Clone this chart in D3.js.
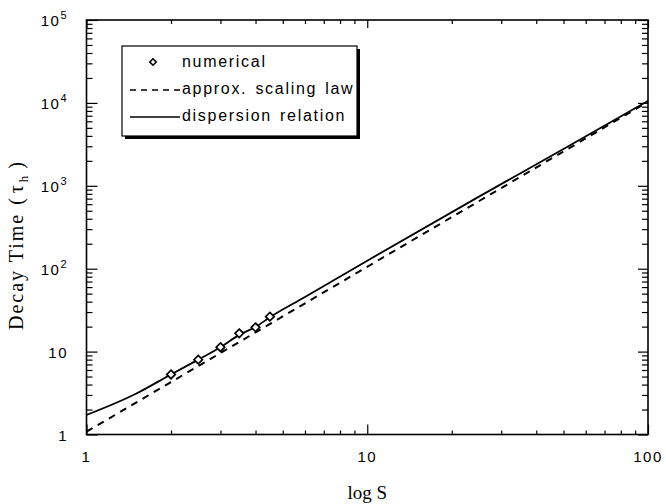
<!DOCTYPE html>
<html>
<head>
<meta charset="utf-8">
<script src="https://cdn.jsdelivr.net/npm/d3@7"></script>
<style>
  body { margin: 0; background: #fff; }
  svg { display: block; }
</style>
</head>
<body>
<div id="chart"></div>
<script>
// numerical results (diamonds)
const numS = [2, 2.5, 3, 3.5, 4, 4.5];
const numTau = [5.3, 8.0, 11.3, 16.6, 19.6, 26.4];

// dispersion relation (solid)
const dispS = [1, 1.5, 2, 2.5, 3, 3.5, 4, 4.5, 6, 10, 25, 50, 100];
const dispTau = [1.72, 3.1, 5.3, 8.0, 11.3, 15.9, 19.8, 26.0, 45.6, 125, 740, 2780, 10600];

// approx. scaling law (dashed)
const scaleS = [1, 100];
const scaleTau = [1.08, 10300];

const xMajor = [1, 10, 100];
const xLabels = ["1", "10", "100"];
const yMajor = [1, 10, 100, 1000, 10000, 100000];
const yBase = ["1", "10", "10", "10", "10", "10"];
const yExp = ["", "", "2", "3", "4", "5"];

const legendItems = ["numerical", "approx. scaling law", "dispersion relation"];

const width = 666, height = 504;
const plot = { left: 86.5, right: 648, top: 20, bottom: 434.5 };

const svg = d3.select("#chart")
  .append("svg")
  .attr("width", width)
  .attr("height", height);

const x = d3.scaleLog().domain([1, 100]).range([plot.left, plot.right]);
const y = d3.scaleLog().domain([1, 100000]).range([plot.bottom, plot.top]);

const minorOf = (scale, majors) =>
  scale.ticks().filter(t => !majors.includes(t));

const xMinor = minorOf(x, xMajor);
const yMinor = minorOf(y, yMajor);

// ticks pointing inward on all four sides
const tickGroup = (axis, tx, ty) => {
  const g = svg.append("g")
    .attr("transform", `translate(${tx},${ty})`)
    .call(axis);
  g.select(".domain").remove();
  g.selectAll("line").attr("stroke", "#000").attr("stroke-width", 1.2);
  return g;
};

tickGroup(d3.axisBottom(x).tickValues(xMajor).tickSize(-10).tickFormat(""), 0, plot.bottom);
tickGroup(d3.axisBottom(x).tickValues(xMinor).tickSize(-4).tickFormat(""), 0, plot.bottom);
tickGroup(d3.axisTop(x).tickValues(xMajor).tickSize(-8).tickFormat(""), 0, plot.top);
tickGroup(d3.axisTop(x).tickValues(xMinor).tickSize(-4).tickFormat(""), 0, plot.top);
tickGroup(d3.axisLeft(y).tickValues(yMajor).tickSize(-11).tickFormat(""), plot.left, 0);
tickGroup(d3.axisLeft(y).tickValues(yMinor).tickSize(-6).tickFormat(""), plot.left, 0);
tickGroup(d3.axisRight(y).tickValues(yMajor).tickSize(-10).tickFormat(""), plot.right, 0);
tickGroup(d3.axisRight(y).tickValues(yMinor).tickSize(-6).tickFormat(""), plot.right, 0);

// frame
svg.append("rect")
  .attr("x", plot.left)
  .attr("y", plot.top)
  .attr("width", plot.right - plot.left)
  .attr("height", plot.bottom - plot.top)
  .attr("fill", "none")
  .attr("stroke", "#000")
  .attr("stroke-width", 1.6);

// tick labels
const sans = "'Liberation Sans', Arial, Helvetica, sans-serif";
const serif = "'Liberation Serif', 'Times New Roman', serif";

svg.append("g")
  .selectAll("text")
  .data(xMajor)
  .join("text")
  .attr("x", d => x(d))
  .attr("y", 462)
  .attr("text-anchor", "middle")
  .attr("font-family", sans)
  .attr("font-size", 15)
  .attr("letter-spacing", 1.5)
  .text((d, i) => xLabels[i]);

const yLab = svg.append("g")
  .selectAll("text")
  .data(yMajor)
  .join("text")
  .attr("x", 68)
  .attr("y", d => y(d) + 6)
  .attr("text-anchor", "end")
  .attr("font-family", sans)
  .attr("font-size", 15)
  .attr("letter-spacing", 1.5);

yLab.append("tspan").text((d, i) => yBase[i]);
yLab.append("tspan")
  .attr("font-size", 11)
  .attr("dx", 0)
  .attr("dy", -7)
  .text((d, i) => yExp[i]);

// axis titles
svg.append("text")
  .attr("x", (plot.left + plot.right) / 2)
  .attr("y", 499)
  .attr("text-anchor", "middle")
  .attr("font-family", serif)
  .attr("font-size", 19)
  .text("log S");

const yTitle = svg.append("text")
  .attr("transform", "translate(23,245) rotate(-90)")
  .attr("text-anchor", "middle")
  .attr("font-family", serif)
  .attr("font-size", 20)
  .attr("letter-spacing", 2);
yTitle.append("tspan").text("Decay Time");
yTitle.append("tspan").attr("dx", 8).text("(");
yTitle.append("tspan").attr("dx", 3).text("\u03c4");
yTitle.append("tspan").attr("font-size", 13).attr("dx", 1).attr("dy", 5).text("h");
yTitle.append("tspan").attr("dx", 5).attr("dy", -5).text(")");

// lines
const line = d3.line()
  .x(d => x(d[0]))
  .y(d => y(d[1]))
  .curve(d3.curveMonotoneX);

svg.append("path")
  .datum(scaleS.map((s, i) => [s, scaleTau[i]]))
  .attr("fill", "none")
  .attr("stroke", "#000")
  .attr("stroke-width", 2)
  .attr("stroke-dasharray", "7,6")
  .attr("d", line);

svg.append("path")
  .datum(dispS.map((s, i) => [s, dispTau[i]]))
  .attr("fill", "none")
  .attr("stroke", "#000")
  .attr("stroke-width", 1.8)
  .attr("d", line);

// numerical points
const diamond = d3.symbol().type(d3.symbolDiamond2).size(46);

svg.append("g")
  .selectAll("path")
  .data(numS.map((s, i) => [s, numTau[i]]))
  .join("path")
  .attr("transform", d => `translate(${x(d[0])},${y(d[1])})`)
  .attr("d", diamond)
  .attr("fill", "#fff")
  .attr("stroke", "#000")
  .attr("stroke-width", 1.7);

// legend
const legend = svg.append("g")
  .attr("class", "legend")
  .attr("transform", "translate(122,46)");

legend.append("rect")
  .attr("x", 3)
  .attr("y", 3)
  .attr("width", 235)
  .attr("height", 90)
  .attr("fill", "#000");

legend.append("rect")
  .attr("width", 235)
  .attr("height", 90)
  .attr("fill", "#fff")
  .attr("stroke", "#000")
  .attr("stroke-width", 1.2);

legend.append("path")
  .attr("transform", "translate(31,16)")
  .attr("d", d3.symbol().type(d3.symbolDiamond2).size(26))
  .attr("fill", "#fff")
  .attr("stroke", "#000")
  .attr("stroke-width", 1.6);

legend.append("line")
  .attr("x1", 8).attr("x2", 58)
  .attr("y1", 44).attr("y2", 44)
  .attr("stroke", "#000")
  .attr("stroke-width", 1.5)
  .attr("stroke-dasharray", "6,5");

legend.append("line")
  .attr("x1", 8).attr("x2", 58)
  .attr("y1", 71).attr("y2", 71)
  .attr("stroke", "#000")
  .attr("stroke-width", 1.5);

legend.selectAll("text.item")
  .data(legendItems)
  .join("text")
  .attr("class", "item")
  .attr("x", 60)
  .attr("y", (d, i) => 21 + i * 27)
  .attr("font-family", sans)
  .attr("font-size", 16)
  .attr("letter-spacing", 1.7)
  .attr("word-spacing", 2)
  .text(d => d);
</script>
</body>
</html>
